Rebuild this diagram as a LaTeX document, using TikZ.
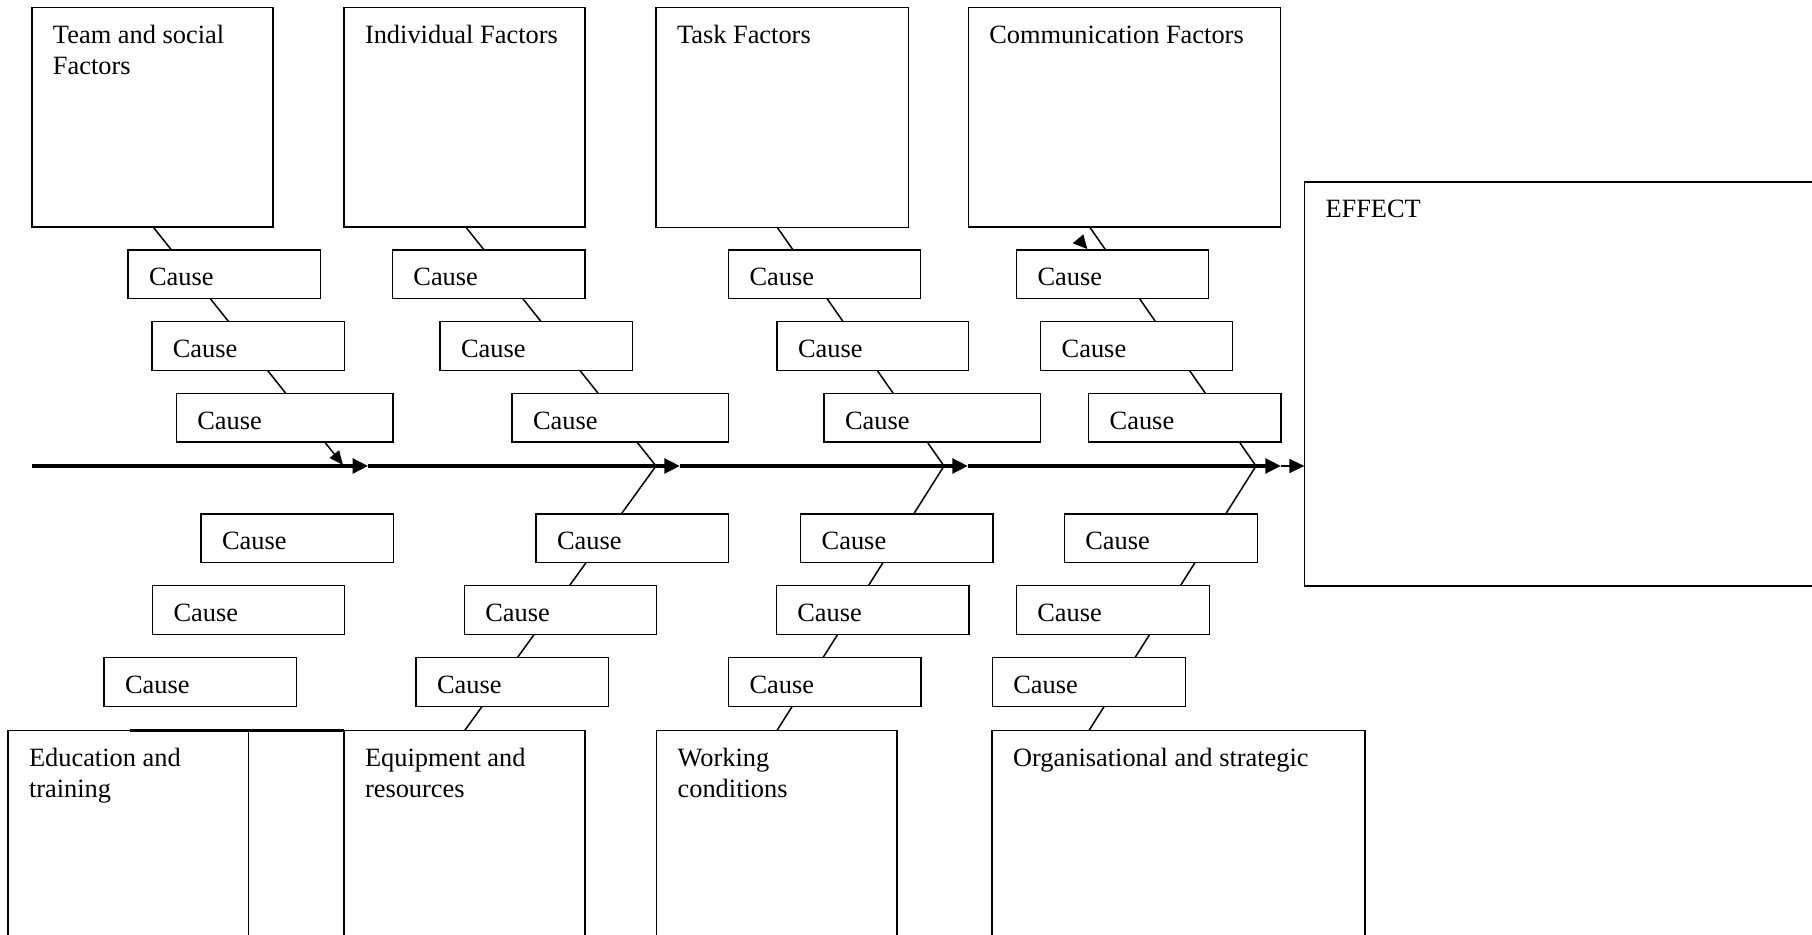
\documentclass[tikz,border=0pt]{standalone}
\usepackage{fontspec}
\setmainfont{Liberation Serif}
\usetikzlibrary{arrows.meta,calc,fit}
\begin{document}
\begin{tikzpicture}[x=0.5pt,y=-0.5pt,
  box/.style={draw, line width=0.75pt, fill=white, inner sep=0pt, outer sep=0pt},
  txt/.style={anchor=north west, inner sep=0pt, outer sep=0pt, align=left,
    font=\fontsize{13.2pt}{15.3pt}\selectfont, xshift=10.5pt, yshift=-7.29pt},
  conn/.style={line width=0.75pt},
  spine/.style={line width=2pt, -{Triangle[length=7.8pt,width=7.2pt]}},
  strip/.style={line width=1.1pt}
]
\useasboundingbox (0,0) rectangle (1812,935);

% top category boxes
\node[box, fit={(32,7.5) (273,226.8)}, label={[txt]north west:{\strut Team and social\\Factors}}] (team) {};
\node[box, fit={(344,7.5) (585,226.8)}, label={[txt]north west:{\strut Individual Factors}}] (indiv) {};
\node[box, fit={(656,7.5) (908.5,227.3)}, label={[txt]north west:{\strut Task Factors}}] (task) {};
\node[box, fit={(968.3,7.5) (1280.5,226.8)}, label={[txt]north west:{\strut Communication Factors}}] (comm) {};
\node[box, fit={(1304.5,182) (1840,586)}, label={[txt]north west:{\strut EFFECT}}] (effect) {};

% bottom category boxes
\node[box, fit={(8,730.5) (248.7,970)}, label={[txt]north west:{\strut Education and\\training}}] (edu) {};
\node[box, fit={(344,730.5) (585,970)}, label={[txt]north west:{\strut Equipment and\\resources}}] (equip) {};
\node[box, fit={(656.6,730.5) (897,970)}, label={[txt]north west:{\strut Working\\conditions}}] (work) {};
\node[box, fit={(992,730.5) (1365,970)}, label={[txt]north west:{\strut Organisational and strategic}}] (org) {};
\coordinate (stripL) at (129.5,730.5);
\draw[strip] (stripL) -- (equip.north west);

% spine coordinates
\coordinate (s0) at (32,466);
\coordinate (a1) at (368.3,466);
\coordinate (a2) at (680,466);
\coordinate (a3) at (968,466);
\coordinate (a4) at (1281,466);
\coordinate (j1) at (343,465);
\coordinate (j2) at (656,466);
\coordinate (j3) at (944,466);
\coordinate (j4) at (1256,466);

% bones
\draw[conn, -{Triangle[length=7pt,width=6pt]}] ($(team.south west)+(121,0)$) -- (j1);
\draw[conn] ($(indiv.south west)+(121.6,0)$) -- (j2) -- ($(equip.north west)+(120.7,0)$);
\draw[conn] ($(task.south west)+(121.2,0)$) -- (j3) -- ($(work.north west)+(120.4,0)$);
\draw[conn] ($(comm.south west)+(121.2,0)$) -- (j4) -- ($(org.north west)+(97,0)$);

% spine
\draw[spine] (s0) -- (a1);
\draw[spine] (a1) -- (a2);
\draw[spine] (a2) -- (a3);
\draw[spine] (a3) -- (a4);
\draw[conn, -{Triangle[length=7.6pt,width=7pt]}] (a4) -- (a4 -| effect.west);

% cause boxes
\foreach \nm/\xa/\xb/\ya/\yb in {
  tc1/128/320.5/250/298.3, tc2/151.8/344.5/321.7/370.3, tc3/176.3/393/393.7/442.2,
  ic1/392.4/585/250/298.3, ic2/440/632.6/321.7/370.3, ic3/512/728.5/393.7/442.2,
  kc1/728.6/920.7/250/298.3, kc2/777/968.5/321.7/370.3, kc3/824/1040.7/393.7/442.2,
  cc1/1016.5/1208.5/250/298.3, cc2/1040.7/1232.7/321.7/370.3, cc3/1088.7/1281/393.7/442.2,
  tb1/201/393.3/514/562.7, tb2/152.5/344.5/585.7/634.3, tb3/104/296.5/657.7/706.7,
  eb1/536/728.6/514/562.7, eb2/464.3/656.7/585.7/634.3, eb3/416/608.7/657.7/706.7,
  wb1/800.7/993/514/562.7, wb2/776.3/968.8/585.7/634.3, wb3/728.6/921/657.7/706.7,
  ob1/1064.3/1257.3/514/562.7, ob2/1016.3/1209.3/585.7/634.3, ob3/992.3/1185.3/657.7/706.7}
  \node[box, fit={(\xa,\ya) (\xb,\yb)}, label={[txt]north west:{\strut Cause}}] (\nm) {};

% stray arrowhead
\fill (1083.3,234.3) -- (1072.7,243.3) -- (1087.3,249) -- cycle;
\end{tikzpicture}
\end{document}
